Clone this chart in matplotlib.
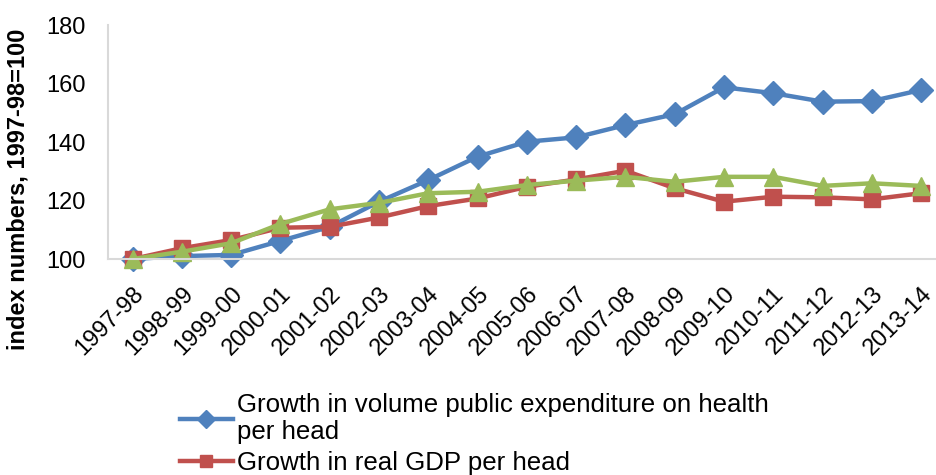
import matplotlib
matplotlib.use('Agg')
import matplotlib.pyplot as plt

plt.rcParams['font.family'] = ['Liberation Sans', 'DejaVu Sans']

# anos fiscales
years = ['1997-98', '1998-99', '1999-00', '2000-01', '2001-02', '2002-03', '2003-04',
         '2004-05', '2005-06', '2006-07', '2007-08', '2008-09', '2009-10', '2010-11',
         '2011-12', '2012-13', '2013-14']

health_exp = [100, 101.0, 101.4, 106.2, 111.0, 119.6, 127.0, 135.0, 140.1, 141.6,
              145.8, 149.5, 158.7, 156.7, 153.8, 154.0, 157.8]
real_gdp = [100, 103.7, 106.5, 110.7, 111.0, 114.2, 118.1, 120.7, 124.7, 127.2,
            130.2, 124.2, 119.6, 121.3, 121.1, 120.4, 122.5]
# tercera serie (su entrada de leyenda queda fuera de la imagen original)
third = [100, 102.5, 105.4, 112.0, 117.0, 119.2, 122.5, 123.0, 125.3, 126.8,
         128.1, 126.4, 128.1, 128.1, 125.0, 125.9, 125.0]

labels = ['Growth in volume public expenditure on health\nper head',
          'Growth in real GDP per head']

fig = plt.figure(figsize=(9.36, 4.75), dpi=100)
ax = fig.add_axes([0.1154, 0.4547, 0.895, 0.4926])

x = list(range(len(years)))
l1, = ax.plot(x, health_exp, color='#4F81BD', lw=3.2, marker='D', ms=12)
l2, = ax.plot(x, real_gdp, color='#C0504D', lw=3.2, marker='s', ms=11.5)
ax.plot(x, third, color='#9BBB59', lw=3.2, marker='^', ms=13)

ax.set_xlim(-0.5, len(years) - 0.5)
ax.set_ylim(100, 180)
ax.set_yticks([100, 120, 140, 160, 180])
ax.set_xticks(x)
ax.set_xticklabels(years, rotation=45, ha='right', rotation_mode='anchor')
ax.tick_params(axis='both', length=0, labelsize=17, colors='#000000')
ax.tick_params(axis='y', pad=16)
ax.tick_params(axis='x', pad=17)

for side in ['top', 'right']:
    ax.spines[side].set_visible(False)
for side in ['left', 'bottom']:
    ax.spines[side].set_color('#D9D9D9')
    ax.spines[side].set_linewidth(1.5)
for ln in ax.lines:
    ln.set_clip_on(False)

fig.text(0.019, 0.602, 'index numbers, 1997-98=100', rotation=90, fontsize=17,
         fontweight='bold', ha='center', va='center')

leg = fig.legend([l1, l2], labels, loc='upper left', bbox_to_anchor=(0.1923, 0.172),
                 frameon=False, fontsize=18.6, handlelength=2.05, handletextpad=0.16,
                 labelspacing=0.3, borderaxespad=0, borderpad=0, markerscale=0.8)
for t in leg.get_texts():
    t.set_linespacing(1.12)

fig.savefig('out.png', dpi=100)
